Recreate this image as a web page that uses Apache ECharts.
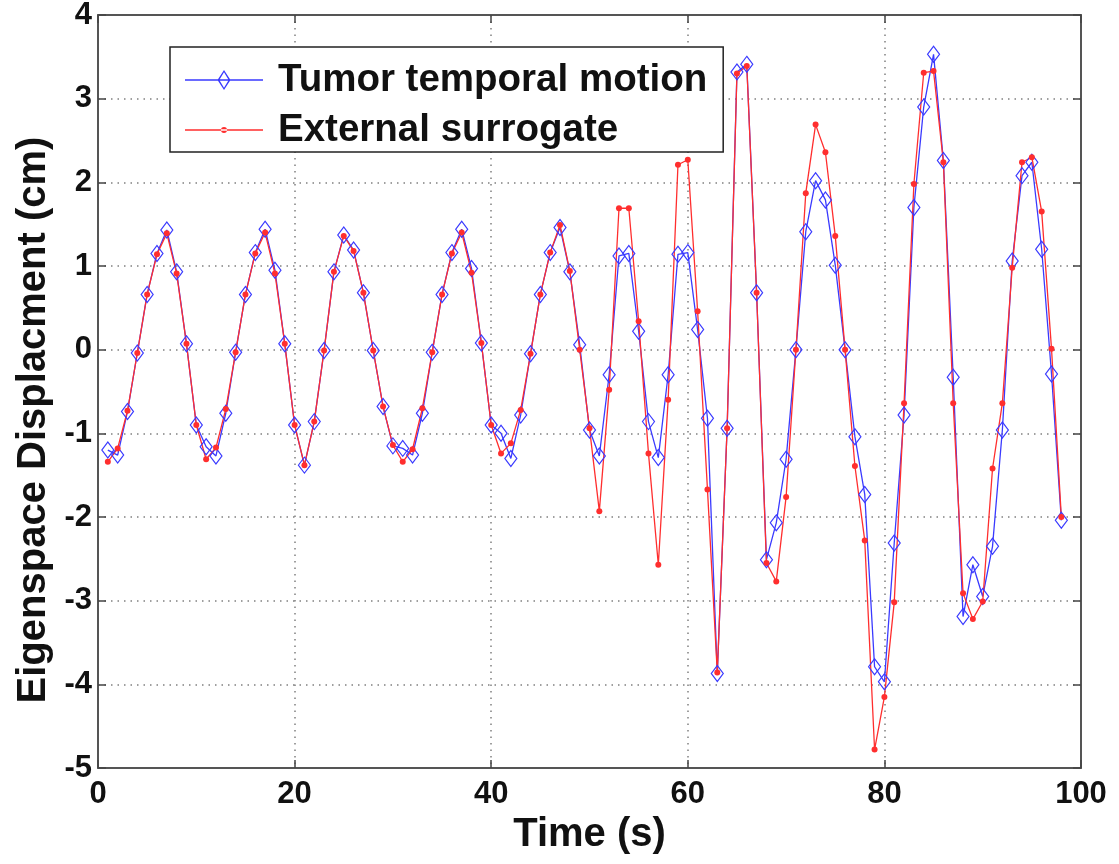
<!DOCTYPE html>
<html><head><meta charset="utf-8">
<script src="https://cdn.jsdelivr.net/npm/echarts@6/dist/echarts.min.js"></script>
<style>html,body{margin:0;padding:0;background:#fff}#c{width:1119px;height:864px}</style>
</head><body><div id="c"></div>
<script>
const timeSec = [1,2,3,4,5,6,7,8,9,10,11,12,13,14,15,16,17,18,19,20,21,22,23,24,25,26,27,28,29,30,31,32,33,34,35,36,37,38,39,40,41,42,43,44,45,46,47,48,49,50,51,52,53,54,55,56,57,58,59,60,61,62,63,64,65,66,67,68,69,70,71,72,73,74,75,76,77,78,79,80,81,82,83,84,85,86,87,88,89,90,91,92,93,94,95,96,97,98];
const tumorMotion = [-1.20,-1.26,-0.74,-0.04,0.66,1.15,1.43,0.93,0.07,-0.90,
  -1.16,-1.27,-0.76,-0.03,0.66,1.16,1.44,0.95,0.07,-0.90,
  -1.38,-0.86,-0.01,0.93,1.37,1.19,0.68,-0.01,-0.68,-1.15,
  -1.18,-1.26,-0.76,-0.03,0.66,1.16,1.44,0.97,0.08,-0.90,
  -1.00,-1.30,-0.78,-0.05,0.66,1.16,1.46,0.93,0.06,-0.96,
  -1.27,-0.30,1.12,1.15,0.22,-0.86,-1.29,-0.30,1.14,1.16,
  0.24,-0.82,-3.87,-0.94,3.32,3.41,0.68,-2.51,-2.07,-1.31,
  0.00,1.41,2.02,1.79,1.01,0.00,-1.04,-1.73,-3.79,-3.97,
  -2.31,-0.78,1.70,2.90,3.53,2.26,-0.33,-3.19,-2.57,-2.95,
  -2.35,-0.96,1.06,2.08,2.24,1.20,-0.29,-2.04];
const externalSurrogate = [-1.34,-1.18,-0.73,-0.04,0.66,1.14,1.39,0.91,0.07,-0.90,
  -1.31,-1.17,-0.71,-0.03,0.66,1.15,1.40,0.91,0.07,-0.90,
  -1.38,-0.86,-0.01,0.93,1.36,1.18,0.68,-0.01,-0.68,-1.14,
  -1.34,-1.19,-0.70,-0.03,0.66,1.15,1.40,0.92,0.08,-0.90,
  -1.24,-1.12,-0.72,-0.05,0.66,1.16,1.49,0.94,0.00,-0.94,
  -1.93,-0.48,1.69,1.69,0.34,-1.24,-2.57,-0.60,2.21,2.27,
  0.46,-1.67,-3.86,-0.94,3.30,3.39,0.68,-2.55,-2.77,-1.76,
  0.00,1.87,2.69,2.36,1.36,0.00,-1.39,-2.28,-4.78,-4.15,
  -3.02,-0.64,1.98,3.31,3.33,2.24,-0.64,-2.91,-3.22,-3.01,
  -1.42,-0.64,0.98,2.24,2.30,1.65,0.01,-2.00];
const seriesNames = ['Tumor temporal motion', 'External surrogate'];
const xRange = [0, 100, 20];
const yRange = [-5, 4, 1];

const BLUE = '#3a3aff';
const RED = '#ff2e2e';
const FONT = 'Liberation Sans, Arial, sans-serif';
const gridLine = {show: true, lineStyle: {color: '#808080', width: 1.5, type: [1.5, 5]}};
const boxLine = {show: true, onZero: false, lineStyle: {color: '#555', width: 2}};
const tick = {show: true, inside: true, length: 8, lineStyle: {color: '#444', width: 1.5}};

// legend icons: line with hollow diamond / line with small dot (MATLAB style)
const iconDiamond = 'path://M0 9.3L78 9.3L78 10.7L0 10.7Z M39 0L45.5 10L39 20L32.5 10Z M39 2.2L34.3 10L39 17.8L43.7 10Z';
const iconDot = 'path://M0 2.3L78 2.3L78 3.7L0 3.7Z M36 3A3 3 0 1 0 42 3A3 3 0 1 0 36 3Z';

const chart = echarts.init(document.getElementById('c'), null, {renderer: 'canvas'});
chart.setOption({
  animation: false,
  backgroundColor: '#fff',
  grid: {left: 98, right: 38, top: 15, bottom: 96, containLabel: false, outerBoundsMode: 'none'},
  legend: {
    show: true, orient: 'vertical', left: 170, top: 47,
    data: [
      {name: seriesNames[0], icon: iconDiamond, itemStyle: {color: BLUE, borderWidth: 0}},
      {name: seriesNames[1], icon: iconDot, itemStyle: {color: RED, borderWidth: 0}}
    ],
    symbolKeepAspect: true,
    backgroundColor: '#fff', borderColor: '#222', borderWidth: 1.5, borderRadius: 0,
    padding: [13, 16, 2, 15], itemGap: 10, itemWidth: 78, itemHeight: 20,
    textStyle: {fontFamily: FONT, fontSize: 38.5, fontWeight: 'bold', color: '#111', lineHeight: 40, padding: [0, 0, 0, 10]}
  },
  xAxis: [{
    type: 'value', min: xRange[0], max: xRange[1], interval: xRange[2], position: 'bottom',
    name: 'Time (s)', nameLocation: 'middle', nameGap: 38,
    nameTextStyle: {fontFamily: FONT, fontSize: 40, fontWeight: 'bold', color: '#111'},
    axisLine: boxLine, axisTick: tick, splitLine: gridLine,
    axisLabel: {fontFamily: FONT, fontSize: 31, fontWeight: 'bold', color: '#111', margin: 11}
  }, {
    type: 'value', min: xRange[0], max: xRange[1], interval: xRange[2], position: 'top',
    axisLine: boxLine, axisTick: tick, splitLine: {show: false}, axisLabel: {show: false}
  }],
  yAxis: [{
    type: 'value', min: yRange[0], max: yRange[1], interval: yRange[2], position: 'left',
    name: 'Eigenspace Displacment (cm)', nameLocation: 'middle', nameGap: 34, nameRotate: 90,
    nameTextStyle: {fontFamily: FONT, fontSize: 40, fontWeight: 'bold', color: '#111', padding: [0, 57, 0, 0]},
    axisLine: boxLine, axisTick: tick, splitLine: gridLine,
    axisLabel: {fontFamily: FONT, fontSize: 31, fontWeight: 'bold', color: '#111', margin: 6}
  }, {
    type: 'value', min: yRange[0], max: yRange[1], interval: yRange[2], position: 'right',
    axisLine: boxLine, axisTick: tick, splitLine: {show: false}, axisLabel: {show: false}
  }],
  series: [{
    name: seriesNames[0], type: 'line',
    data: timeSec.map((t, i) => [t, tumorMotion[i]]),
    symbol: 'diamond', symbolSize: [12, 16], showSymbol: true,
    lineStyle: {color: BLUE, width: 1.3},
    itemStyle: {color: 'rgba(255,255,255,0)', borderColor: BLUE, borderWidth: 1.2},
    emphasis: {disabled: true}
  }, {
    name: seriesNames[1], type: 'line',
    data: timeSec.map((t, i) => [t, externalSurrogate[i]]),
    symbol: 'circle', symbolSize: 6, showSymbol: true,
    lineStyle: {color: RED, width: 1.3},
    itemStyle: {color: RED, borderWidth: 0},
    emphasis: {disabled: true}
  }]
});
</script></body></html>
